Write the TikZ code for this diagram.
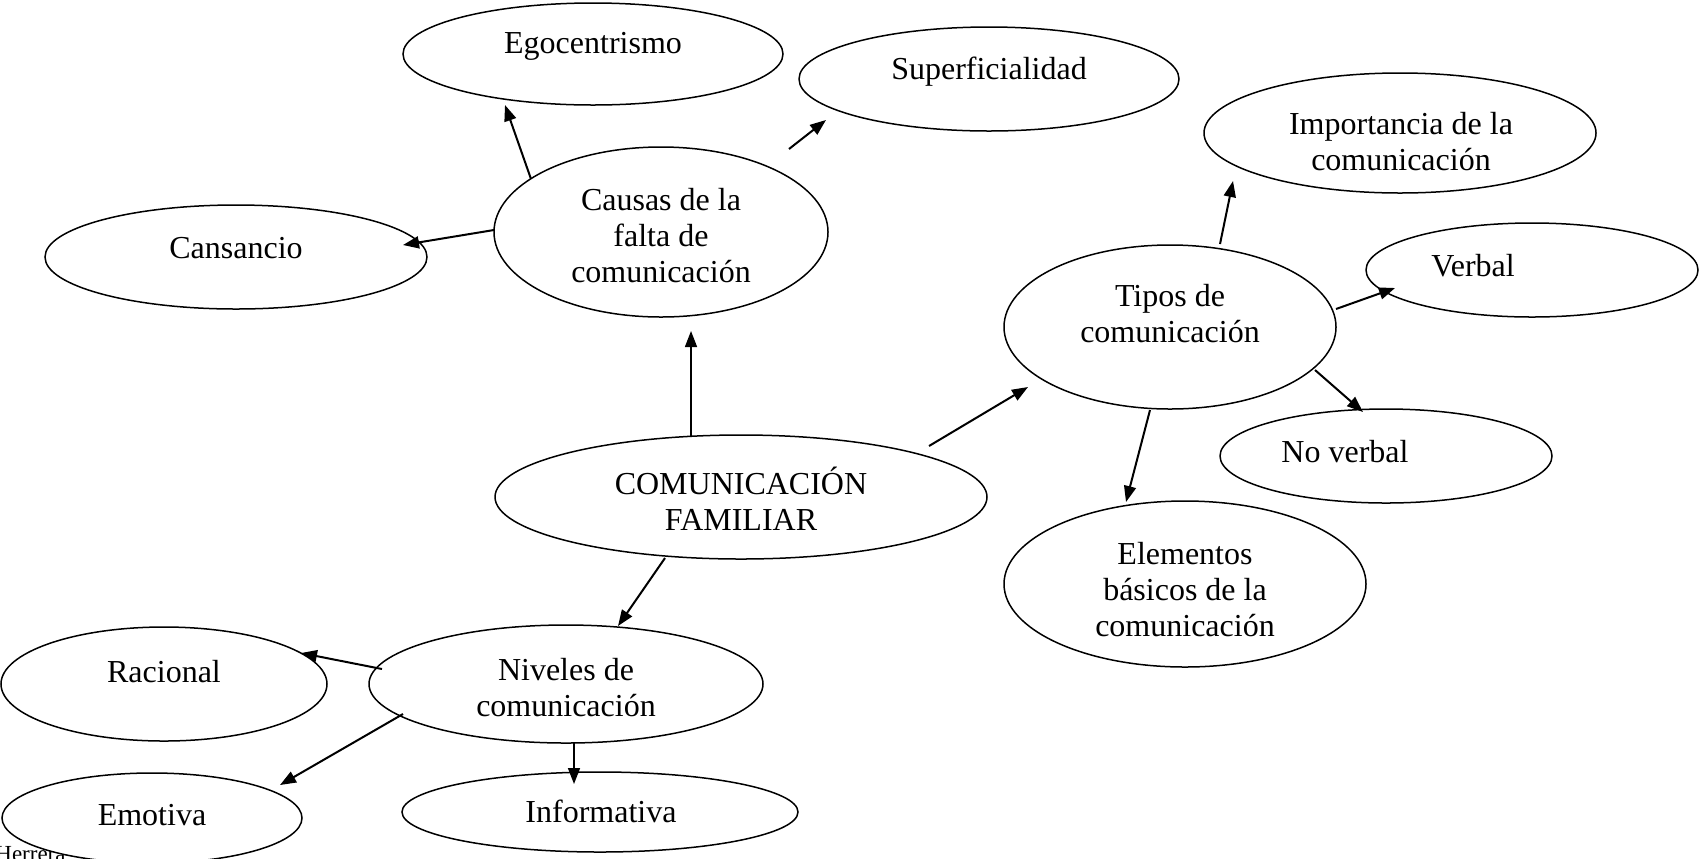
\documentclass[tikz,border=0pt]{standalone}
\usepackage{fontspec}
\setmainfont{Liberation Serif}
\usetikzlibrary{shapes.geometric,arrows.meta}
\tikzset{
  ell/.style={ellipse, draw, line width=0.75pt, fill=white, inner sep=0pt},
  txt/.style={align=center, inner sep=0pt, font=\fontsize{16}{18}\selectfont},
  arr/.style={line width=1pt, -{Triangle[length=8pt,width=6pt]}},
}
\begin{document}
\begin{tikzpicture}[x=0.5pt,y=-0.5pt]
\useasboundingbox (0,0) rectangle (1700,858);
% footer text partly hidden
\node[anchor=base west, inner sep=0pt, font=\fontsize{11.5}{13}\selectfont] (herr) at (-5,861) {Herrera};
% ellipses
\node[ell, minimum width=190pt, minimum height=51pt] (ego) at (593,54) {};
\node[ell, minimum width=190pt, minimum height=52pt] (sup) at (989,79) {};
\node[ell, minimum width=167pt, minimum height=85pt] (cau) at (661,232) {};
\node[ell, minimum width=191pt, minimum height=52pt] (can) at (236,257) {};
\node[ell, minimum width=196pt, minimum height=60pt] (imp) at (1400,133) {};
\node[ell, minimum width=166pt, minimum height=47pt] (ver) at (1532,270) {};
\node[ell, minimum width=166pt, minimum height=82pt] (tip) at (1170,327) {};
\node[ell, minimum width=166pt, minimum height=47pt] (nov) at (1386,456) {};
\node[ell, minimum width=246pt, minimum height=62pt] (com) at (741,497) {};
\node[ell, minimum width=181pt, minimum height=83pt] (ele) at (1185,584) {};
\node[ell, minimum width=163pt, minimum height=57pt] (rac) at (164,684) {};
\node[ell, minimum width=197pt, minimum height=59pt] (niv) at (566,684) {};
\node[ell, minimum width=150pt, minimum height=45pt] (emo) at (152,818) {};
\node[ell, minimum width=198pt, minimum height=40pt] (inf) at (600,812) {};
% texts
\node[txt] (egoT) at (593,46) {Egocentrismo};
\node[txt] (supT) at (989,72) {Superficialidad};
\node[txt] (cauT) at (661,236) {Causas de la\\falta de\\comunicación};
\node[txt] (canT) at (236,248) {Cansancio};
\node[txt] (impT) at (1401,142) {Importancia de la\\comunicación};
\node[txt] (verT) at (1473,266) {Verbal};
\node[txt] (tipT) at (1170,314) {Tipos de\\comunicación};
\node[txt] (novT) at (1345,452) {No verbal};
\node[txt] (comT) at (741,499) {COMUNICACIÓN\\FAMILIAR};
\node[txt] (eleT) at (1185,590) {Elementos\\básicos de la\\comunicación};
\node[txt] (racT) at (164,672) {Racional};
\node[txt] (nivT) at (566,688) {Niveles de\\comunicación};
\node[txt] (emoT) at (152,815) {Emotiva};
\node[txt] (infT) at (601,811) {Informativa};
% arrow end points
\coordinate (a1s) at (531,179); \coordinate (a1e) at (505,105);
\coordinate (a2s) at (789,149); \coordinate (a2e) at (826,120);
\coordinate (a3s) at (494,230); \coordinate (a3e) at (403,245);
\coordinate (a4s) at (691,437); \coordinate (a4e) at (691,331);
\coordinate (a5s) at (929,446); \coordinate (a5e) at (1028,387);
\coordinate (a6s) at (665,558); \coordinate (a6e) at (618,626);
\coordinate (a7s) at (1220,244); \coordinate (a7e) at (1233,181);
\coordinate (a8s) at (1336,309); \coordinate (a8e) at (1395,288);
\coordinate (a9s) at (1315,370); \coordinate (a9e) at (1363,412);
\coordinate (a10s) at (1150,410); \coordinate (a10e) at (1126,502);
\coordinate (a11s) at (382,669); \coordinate (a11e) at (301,653);
\coordinate (a12s) at (403,714); \coordinate (a12e) at (280,785);
\coordinate (a13s) at (574,742); \coordinate (a13e) at (574,784);
\draw[arr] (a1s) -- (a1e);
\draw[arr] (a2s) -- (a2e);
\draw[arr] (a3s) -- (a3e);
\draw[arr, line width=0.75pt] (a4s) -- (a4e);
\draw[arr] (a5s) -- (a5e);
\draw[arr] (a6s) -- (a6e);
\draw[arr] (a7s) -- (a7e);
\draw[arr] (a8s) -- (a8e);
\draw[arr] (a9s) -- (a9e);
\draw[arr] (a10s) -- (a10e);
\draw[arr] (a11s) -- (a11e);
\draw[arr] (a12s) -- (a12e);
\draw[arr, line width=0.75pt] (a13s) -- (a13e);
\end{tikzpicture}
\end{document}
